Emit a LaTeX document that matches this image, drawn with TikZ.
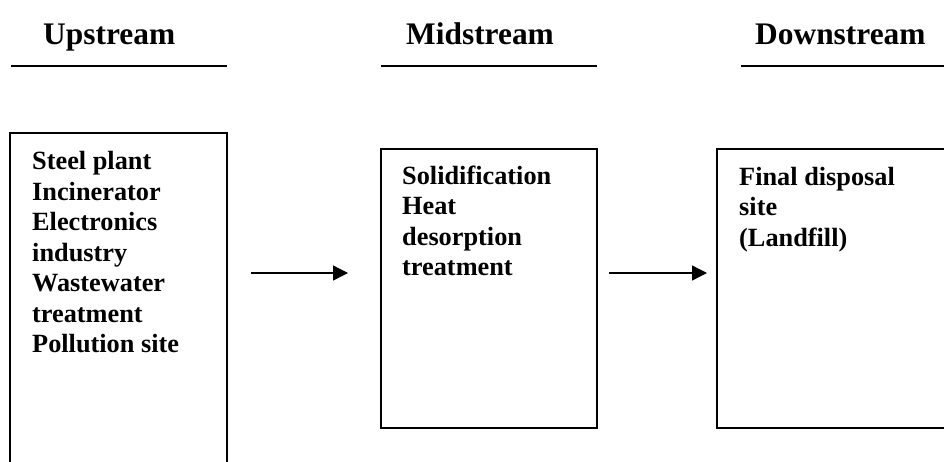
\documentclass[tikz,border=0pt]{standalone}
\usepackage{fontspec}
\setmainfont{Liberation Serif}
\usetikzlibrary{arrows.meta}
\begin{document}
\begin{tikzpicture}[x=1pt,y=-1pt,
  box/.style={draw,line width=2pt,outer sep=0pt,inner sep=0pt,anchor=north west},
  headrule/.style={line width=2.3pt},
  arr/.style={line width=1.3pt,-{Triangle[length=15pt,width=15pt]}},
  head/.style={font=\bfseries\fontsize{31.4}{36}\selectfont,anchor=base west,inner sep=0pt},
  body/.style={font=\bfseries\fontsize{26.3}{30.5}\selectfont,anchor=base west,inner sep=0pt,align=left}]
\useasboundingbox (0,0) rectangle (944,461);
\clip (0,0) rectangle (944,461);
% headers
\node[head] (h1) at (43,44) {Upstream};
\node[head] (h2) at (406,44) {Midstream};
\node[head] (h3) at (755,44) {Downstream};
\draw[headrule] (11,66) -- (227,66);
\draw[headrule] (381,66) -- (597,66);
\draw[headrule] (741,66) -- (960,66);
% boxes
\node[box,minimum width=217pt,minimum height=347pt] (b1) at (10,133) {};
\node[box,minimum width=216pt,minimum height=279pt] (b2) at (381,149) {};
\node[box,minimum width=243pt,minimum height=279pt] (b3) at (717,149) {};
% texts (anchored at the baseline of their last line)
\node[body] (t1) at (32,352.5) {Steel plant\\Incinerator\\Electronics\\industry\\Wastewater\\treatment\\Pollution site};
\node[body] (t2) at (402,275.5) {Solidification\\Heat\\desorption\\treatment};
\node[body] (t3) at (739,246) {Final disposal\\site\\(Landfill)};
% arrows
\coordinate (a1s) at (251,273);
\coordinate (a1e) at (348,273);
\coordinate (a2s) at (609,273);
\coordinate (a2e) at (707,273);
\draw[arr] (a1s) -- (a1e);
\draw[arr] (a2s) -- (a2e);
\end{tikzpicture}
\end{document}
